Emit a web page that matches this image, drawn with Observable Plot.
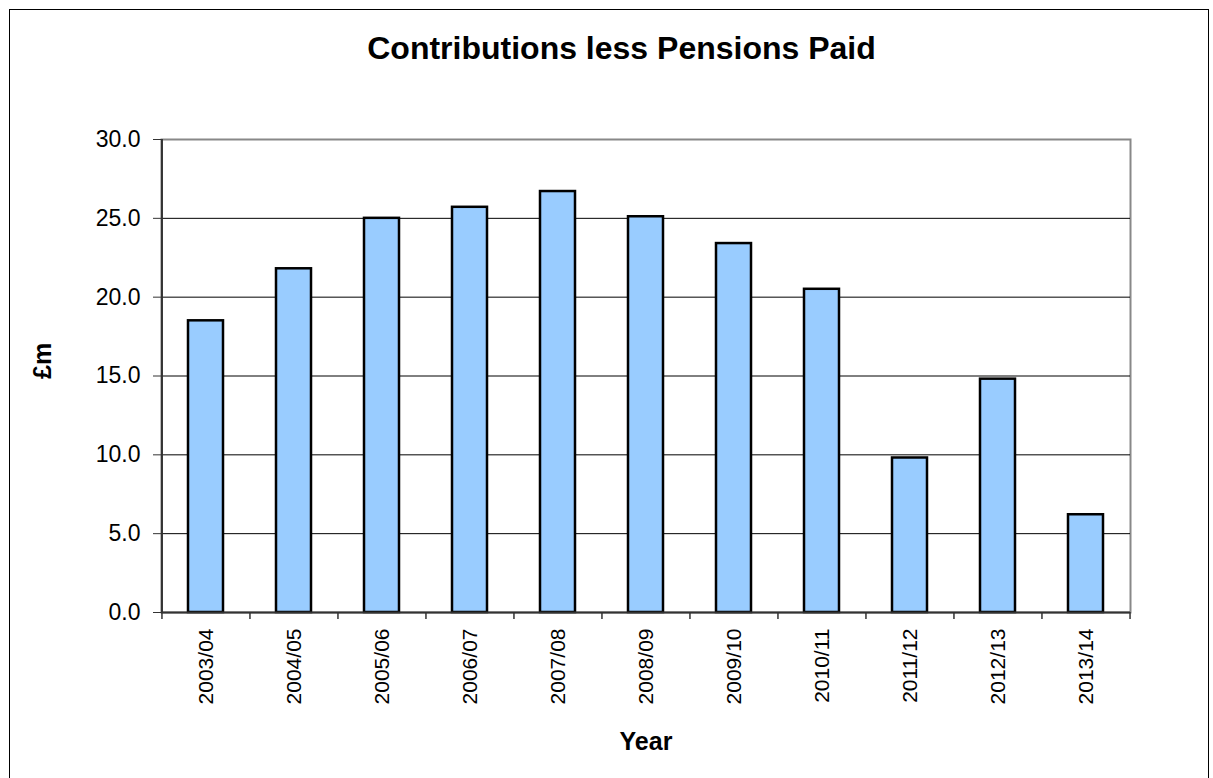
<!DOCTYPE html>
<html>
<head>
<meta charset="utf-8">
<script src="https://cdn.jsdelivr.net/npm/d3@7"></script>
<script src="https://cdn.jsdelivr.net/npm/@observablehq/plot@0.6"></script>
<style>
  html, body { margin: 0; padding: 0; background: #fff; overflow: hidden; }
  #wrap { position: relative; width: 1213px; height: 778px; font-family: "Liberation Sans", Arial, sans-serif; }
  #border { position: absolute; left: 9px; top: 9px; width: 1200px; height: 800px; border: 1px solid #000; box-sizing: border-box; pointer-events: none; }
  #title { position: absolute; left: 0; width: 1243px; top: 30px; text-align: center; font-size: 32px; font-weight: bold; color: #000; }
  #chart { position: absolute; left: 0; top: 0; }
</style>
</head>
<body>
<div id="wrap">
  <div id="chart"></div>
  <div id="border"></div>
  <div id="title">Contributions less Pensions Paid</div>
</div>
<script>
const years = ["2003/04","2004/05","2005/06","2006/07","2007/08","2008/09","2009/10","2010/11","2011/12","2012/13","2013/14"];
const values = [18.5, 21.8, 25.0, 25.7, 26.7, 25.1, 23.4, 20.5, 9.8, 14.8, 6.2];
const yTicks = [0, 5, 10, 15, 20, 25, 30];
const yLabel = "£m";
const xLabel = "Year";

const data = years.map((y, i) => ({year: y, value: values[i]}));

const W = 1213, H = 778;
const mL = 161, mR = 83, mT = 139, mB = 166;
const step = (W - mL - mR) / years.length;

const plot = Plot.plot({
  width: W,
  height: H,
  marginLeft: mL,
  marginRight: mR,
  marginTop: mT,
  marginBottom: mB,
  style: {fontFamily: "Liberation Sans, Arial, sans-serif", background: "transparent", overflow: "visible"},
  x: {domain: years, paddingInner: 0.6, paddingOuter: 0.3, label: null},
  y: {domain: [0, 30], label: null},
  marks: [
    Plot.frame({stroke: "#888", strokeWidth: 2}),
    Plot.ruleY(yTicks.filter(d => d > 0 && d < 30), {stroke: "#000", strokeWidth: 1}),
    Plot.barY(data, {x: "year", y: "value", fill: "#99ccff", stroke: "#000", strokeWidth: 2.5}),
    // category boundary ticks below the axis
    Plot.ruleX(years, {x: d => d, dx: -step / 2, y1: 0, y2: -0.45, stroke: "#333", strokeWidth: 1.5}),
    Plot.ruleX([years[years.length - 1]], {x: d => d, dx: step / 2, y1: 0, y2: -0.45, stroke: "#333", strokeWidth: 1.5}),
    // left axis line
    Plot.ruleX([years[0]], {x: d => d, dx: -step / 2, y1: 0, y2: 30, stroke: "#333", strokeWidth: 2}),
    // bottom axis line
    Plot.ruleY([0], {stroke: "#333", strokeWidth: 2}),
    Plot.axisY({ticks: yTicks, tickFormat: d3.format(".1f"), tickSize: 8, tickPadding: 13, fontSize: 23, stroke: "#333", label: null, color: "#000"}),
    Plot.axisX({tickSize: 0, tickPadding: 16, tickRotate: -90, fontSize: 21, label: null}),
    Plot.text([yLabel], {frameAnchor: "left", dx: -119, dy: 3, rotate: -90, fontWeight: "bold", fontSize: 25, fill: "#000"}),
    Plot.text([xLabel], {frameAnchor: "bottom", dx: 0, dy: 137, fontWeight: "bold", fontSize: 25, fill: "#000"})
  ]
});
document.getElementById("chart").appendChild(plot);
</script>
</body>
</html>
